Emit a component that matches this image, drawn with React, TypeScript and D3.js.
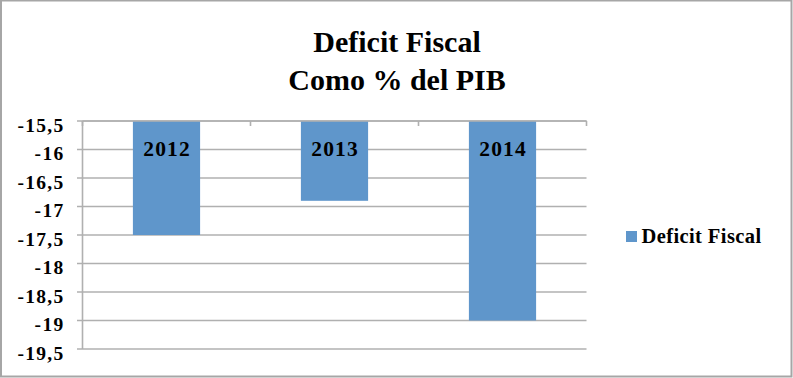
import React from "react";
import * as d3 from "d3";

const categories = ["2012", "2013", "2014"];
const values = [-17.5, -16.9, -19.0];
const yTicks = [-15.5, -16, -16.5, -17, -17.5, -18, -18.5, -19, -19.5];
const titleLines = ["Deficit Fiscal", "Como % del PIB"];
const seriesName = "Deficit Fiscal";

const W = 793;
const H = 378;
const left = 82.5;
const right = 586.5;
const top = 121;
const bottom = 349;
const barColor = "#5f96cb";
const gridColor = "#b0b0b0";
const serif = "'Liberation Serif', serif";

export default function App() {
  const y = d3.scaleLinear().domain([-15.5, -19.5]).range([top, bottom]);
  const x = d3
    .scaleBand<string>()
    .domain(categories)
    .range([left, right])
    .paddingInner(0.6)
    .paddingOuter(0.3);
  const step = (right - left) / categories.length;
  const fmt = (v: number) => String(v).replace(".", ",");

  return (
    <svg
      width={W}
      height={H}
      style={{ position: "fixed", left: 0, top: 0, display: "block", background: "#fff" }}
    >
      <rect x={1} y={0.5} width={W - 2.5} height={H - 2} fill="#fff" stroke="#a6a6a6" strokeWidth={2} />
      {/* title */}
      {titleLines.map((t, i) => (
        <text
          key={t}
          x={397}
          y={52 + i * 38}
          textAnchor="middle"
          fontFamily={serif}
          fontWeight="bold"
          fontSize={30}
          fill="#000"
        >
          {t}
        </text>
      ))}
      {/* gridlines */}
      {yTicks.map((t) => (
        <line key={t} x1={77} x2={right} y1={y(t)} y2={y(t)} stroke={gridColor} strokeWidth={1.6} />
      ))}
      {/* left axis */}
      <line x1={left} x2={left} y1={top} y2={bottom} stroke={gridColor} strokeWidth={1.6} />
      {/* tick labels */}
      {yTicks.map((t) => (
        <text
          key={"l" + t}
          x={64.5}
          y={y(t) + 10.5}
          textAnchor="end"
          fontFamily={serif}
          fontWeight="bold"
          fontSize={19.5}
          letterSpacing={1.3}
          fill="#000"
        >
          {fmt(t)}
        </text>
      ))}
      {/* bars */}
      {categories.map((c, i) => (
        <rect
          key={c}
          x={x(c)}
          y={y(-15.5)}
          width={x.bandwidth()}
          height={y(values[i]) - y(-15.5)}
          fill={barColor}
        />
      ))}
      {/* category axis at top */}
      <line x1={left} x2={right} y1={top} y2={top} stroke={gridColor} strokeWidth={1.6} />
      {d3.range(categories.length + 1).map((i) => (
        <line
          key={"t" + i}
          x1={left + i * step}
          x2={left + i * step}
          y1={top}
          y2={top + 5}
          stroke={gridColor}
          strokeWidth={1.6}
        />
      ))}
      {categories.map((c) => (
        <text
          key={"c" + c}
          x={(x(c) as number) + x.bandwidth() / 2 + 0.6}
          y={156}
          textAnchor="middle"
          fontFamily={serif}
          fontWeight="bold"
          fontSize={21.5}
          letterSpacing={1.2}
          fill="#000"
        >
          {c}
        </text>
      ))}
      {/* legend */}
      <rect x={626} y={231} width={11} height={11} fill={barColor} />
      <text x={641.5} y={243} fontFamily={serif} fontWeight="bold" fontSize={20.5} letterSpacing={0.4} fill="#000">
        {seriesName}
      </text>
    </svg>
  );
}
